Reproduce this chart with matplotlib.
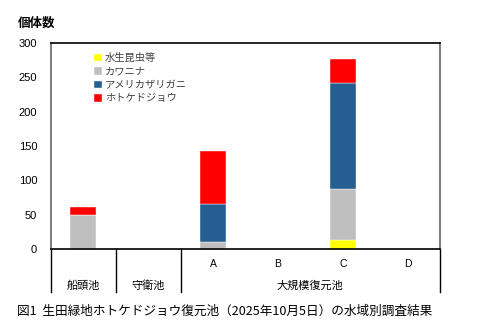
import matplotlib.pyplot as plt
import matplotlib.transforms as mtransforms

plt.rcParams['font.family'] = ['Noto Sans CJK JP', 'DejaVu Sans']

# 水域ごとの個体数
sites = ['船頭池', '守衛池', 'A', 'B', 'C', 'D']
insects = [0, 0, 0, 0, 13, 0]
kawanina = [49, 0, 10, 0, 75, 0]
zarigani = [0, 0, 55, 0, 154, 0]
dojo = [12, 0, 77, 0, 34, 0]

series = [
    ('水生昆虫等', insects, '#FFFF00'),
    ('カワニナ', kawanina, '#BFBFBF'),
    ('アメリカザリガニ', zarigani, '#255E91'),
    ('ホトケドジョウ', dojo, '#FF0000'),
]

fig = plt.figure(figsize=(4.86, 3.27), dpi=100)
ax = fig.add_axes([51 / 486, 1 - 249 / 327, 389 / 486, 206 / 327])

x = list(range(len(sites)))
bottom = [0] * len(sites)
for name, vals, color in series:
    ax.bar(x, vals, width=0.4, bottom=bottom, color=color, label=name,
           edgecolor='white', linewidth=0.3)
    bottom = [b + v for b, v in zip(bottom, vals)]

ax.set_xlim(-0.5, len(sites) - 0.5)
ax.set_ylim(0, 300)
ax.set_yticks(range(0, 301, 50))
ax.tick_params(axis='y', length=0, pad=10, labelsize=8)
for lbl in ax.get_yticklabels():
    lbl.set_family(['Liberation Sans'])
ax.set_xticks([])

for side in ['left', 'right']:
    ax.spines[side].set_color('#808080')
    ax.spines[side].set_linewidth(1.5)
ax.spines['top'].set_color('black')
ax.spines['top'].set_linewidth(1.2)
ax.spines['bottom'].set_color('black')
ax.spines['bottom'].set_linewidth(1.2)

# 区分表（水域名と区分）
trans = mtransforms.blended_transform_factory(ax.transData, ax.transAxes)
for xs in [-0.5, 0.5, 1.5, 5.5]:
    ax.plot([xs, xs], [0, -0.21], color='black', lw=1.0,
            transform=trans, clip_on=False)

for i, s in enumerate(sites):
    if i >= 2:
        ax.text(i, -0.073, s, transform=trans, ha='center', va='center',
                fontsize=7.5, family=['Liberation Sans'])
    else:
        ax.text(i, -0.18, s, transform=trans, ha='center', va='center',
                fontsize=8)
ax.text(3.5, -0.18, '大規模復元池', transform=trans, ha='center',
        va='center', fontsize=8)

leg = ax.legend(loc='upper left', bbox_to_anchor=(0.098, 0.975), frameon=False,
                fontsize=7.4, handlelength=0.75, handleheight=0.75,
                handletextpad=0.3, labelspacing=0.33, borderpad=0)
for t in leg.get_texts():
    t.set_color('#404040')

fig.text(18 / 486, 1 - 23 / 327, '個体数', fontsize=9, fontweight='bold',
         ha='left', va='center')
fig.text(17 / 486, 1 - 311 / 327,
         '図1  生田緑地ホトケドジョウ復元池（2025年10月5日）の水域別調査結果',
         fontsize=9.1, ha='left', va='center')

fig.savefig('out.png', dpi=100)
